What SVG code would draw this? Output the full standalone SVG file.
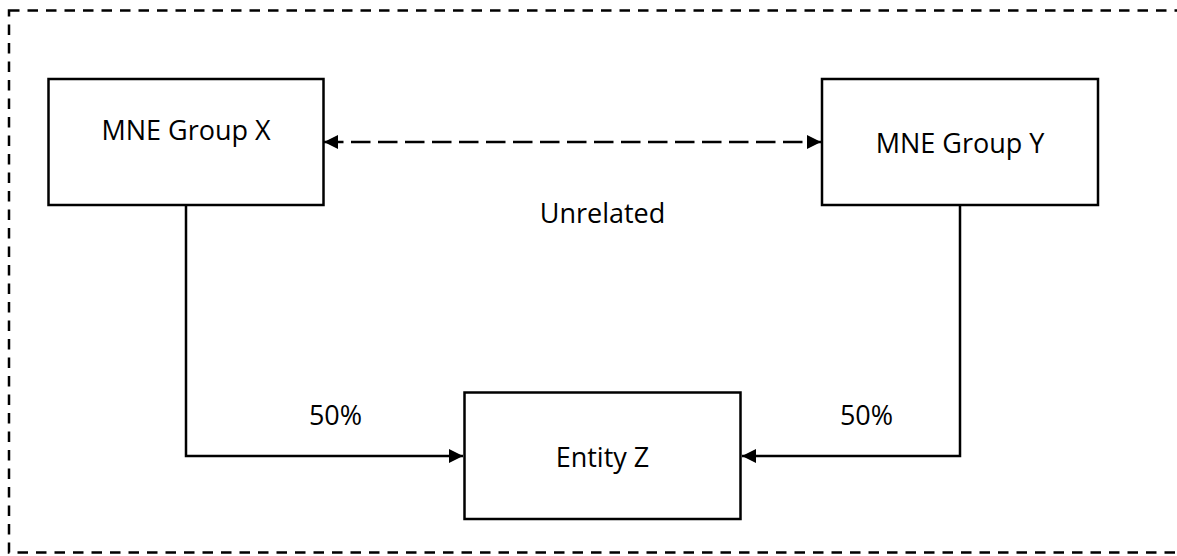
<svg xmlns="http://www.w3.org/2000/svg" width="1177" height="556" viewBox="0 0 1177 556">
<style>
.box{fill:#fff;stroke:#000;stroke-width:2.5}
.lbl{font-family:"Open Sans","Noto Sans",sans-serif;font-size:27px;fill:#000;text-anchor:middle}
.con{fill:none;stroke:#000;stroke-width:2.5}
</style>
<defs>
<marker id="ah" viewBox="0 0 10 10" refX="10" refY="5" markerWidth="15" markerHeight="14" markerUnits="userSpaceOnUse" orient="auto-start-reverse">
<path d="M0,0 L10,5 L0,10 Z" fill="#000"/>
</marker>
</defs>
<rect x="9" y="10.5" width="1200" height="542" fill="none" stroke="#000" stroke-width="2.5" stroke-dasharray="10.5 8"/>
<g id="connectors">
<line class="con" x1="324" y1="142" x2="821" y2="142" stroke-dasharray="19.5 7.5" marker-start="url(#ah)" marker-end="url(#ah)"/>
<polyline class="con" points="186,205 186,456 463,456" marker-end="url(#ah)"/>
<polyline class="con" points="960,205 960,456 742,456" marker-end="url(#ah)"/>
</g>
<g id="nodeX">
<rect class="box" x="48.5" y="79" width="275" height="126"/>
<text class="lbl" x="186" y="140">MNE Group X</text>
</g>
<g id="nodeY">
<rect class="box" x="822" y="79" width="276" height="126"/>
<text class="lbl" x="960" y="153">MNE Group Y</text>
</g>
<g id="nodeZ">
<rect class="box" x="464.5" y="392.5" width="276" height="126.5"/>
<text class="lbl" x="602.5" y="467">Entity Z</text>
</g>
<g id="labels">
<text class="lbl" x="602.5" y="223">Unrelated</text>
<text class="lbl" x="335.5" y="425">50%</text>
<text class="lbl" x="866.5" y="425">50%</text>
</g>
</svg>
